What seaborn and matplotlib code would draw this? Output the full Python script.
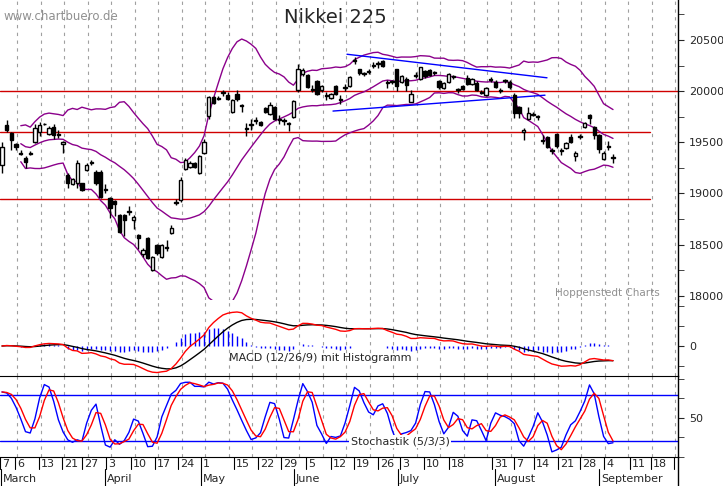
import numpy as np
import pandas as pd
import matplotlib
matplotlib.use("Agg")
import matplotlib.pyplot as plt
import seaborn as sns

# ---------------- data ----------------
opens = [19280,19670,19590,19480,19400,19350,19390,19500,19600,19680,19580,19650,19580,19480,
         19180,19090,19100,19100,19230,19300,19210,19210,19040,18960,18930,18790,18790,18830,
         18740,18590,18410,18560,18250,18500,18380,18480,18610,18920,18940,19240,19260,19300,
         19200,19400,19760,19940,19930,19980,19960,19800,19970,19860,19640,19680,19720,19700,
         19830,19780,19840,19730,19720,19680,19750,20010,20170,20160,20020,20100,20010,19960,
         19930,20050,19920,20030,20050,20300,20215,20175,20190,20255,20260,20295,20080,20090,
         20215,20090,20120,19895,20160,20120,20200,20210,20180,20100,20030,20090,20140,20010,
         20050,20130,20070,20080,19990,19960,20120,20090,20010,20110,20090,19960,19840,19600,
         19730,19780,19760,19510,19550,19420,19580,19420,19440,19550,19370,19560,19650,19770,
         19650,19570,19335,19460,19360]
closes = [19450,19620,19520,19450,19390,19310,19400,19640,19670,19675,19640,19570,19570,19500,
          19100,19140,19300,19030,19280,19310,19100,18965,19030,18860,18900,18620,18740,18820,
          18770,18560,18450,18370,18380,18420,18500,18470,18660,18910,19130,19330,19300,19260,
          19370,19500,19940,19880,19920,19990,19920,19910,19920,19850,19630,19670,19710,19670,
          19800,19860,19730,19720,19710,19690,19900,20215,20210,20040,20010,19970,20050,19950,
          19970,19970,19910,20030,20140,20290,20175,20170,20200,20250,20270,20245,20080,20090,
          20050,20150,20060,19970,20150,20235,20150,20160,20175,20040,20080,20170,20140,20010,
          20020,20070,20120,20010,19985,20030,20110,20040,20005,20100,20040,19785,19790,19620,
          19790,19770,19750,19520,19455,19410,19460,19410,19490,19500,19400,19550,19690,19740,
          19570,19435,19400,19450,19345]
highs = [19500,19720,19600,19490,19420,19370,19410,19680,19700,19690,19660,19680,19620,19510,
         19200,19150,19330,19100,19300,19330,19230,19230,19090,18970,18940,18800,18800,18880,
         18790,18600,18470,18570,18390,18510,18510,18550,18690,18950,19160,19350,19320,19310,
         19380,19530,19950,19950,19950,20010,19990,19920,20010,19870,19690,19730,19750,19710,
         19840,19890,19850,19770,19740,19700,19910,20260,20230,20170,20060,20110,20060,19990,
         19980,20060,19960,20070,20150,20330,20220,20190,20220,20280,20290,20300,20110,20110,
         20220,20160,20140,20010,20190,20240,20210,20220,20200,20110,20090,20180,20160,20030,
         20060,20160,20130,20100,20010,20040,20140,20110,20030,20120,20110,19980,19850,19640,
         19840,19800,19770,19570,19560,19440,19590,19440,19500,19580,19410,19580,19700,19780,
         19660,19580,19410,19510,19390]
lows = [19200,19600,19420,19420,19380,19250,19380,19490,19560,19670,19570,19530,19540,19400,
        19050,19080,19050,19020,19220,19280,19080,18960,19000,18760,18780,18610,18580,18790,
        18650,18460,18380,18360,18240,18400,18370,18440,18600,18890,18920,19230,19250,19250,
        19190,19390,19730,19870,19910,19950,19910,19790,19900,19800,19560,19620,19680,19660,
        19790,19770,19720,19680,19670,19610,19740,19990,20150,20030,19990,19960,19990,19910,
        19920,19960,19870,20000,20040,20260,20160,20150,20170,20230,20230,20240,20030,20070,
        20000,20080,20000,19890,20130,20110,20130,20150,20160,20020,20020,20080,20120,19980,
        20010,20060,20060,20000,19970,19950,20090,20030,19980,20080,20020,19740,19740,19520,
        19720,19760,19720,19480,19440,19390,19440,19380,19430,19490,19320,19530,19640,19680,
        19530,19400,19330,19420,19300]

day_labels = ["7","6","13","21","27","3","10","17","24","1","15","22","29","5","12","19",
              "26","3","10","18","31","7","14","21","28","4","11","18"]
day_label_px = [2,17,41,64,84,108,133,157,180,203,236,260,283,308,333,356,380,402,426,451,
                494,516,536,560,582,606,632,653]
month_labels = ["March","April","May","June","July","August","September"]
month_label_px = [3,107,203,296,400,497,601]

hlines_price = [20000, 19600, 18950]
trend1 = ([347, 547], [20360, 20130])   # pixel x, price
trend2 = ([333, 545], [19805, 19960])

# ---------------- indicators ----------------
n = len(closes)
df = pd.DataFrame({"i": np.arange(n), "o": opens, "c": closes, "h": highs, "l": lows})
c = df["c"]
mid = c.rolling(20, min_periods=5).mean()
sd = c.rolling(20, min_periods=5).std()
df["bb_mid"], df["bb_up"], df["bb_lo"] = mid, mid + 2 * sd, mid - 2 * sd
macd = c.ewm(span=12).mean() - c.ewm(span=26).mean()
sig = macd.ewm(span=9).mean()
df["macd"], df["sig"], df["hist"] = macd, sig, macd - sig
ll = df["l"].rolling(5, min_periods=1).min()
hh = df["h"].rolling(5, min_periods=1).max()
fk = 100 * (c - ll) / (hh - ll)
df["k"] = fk.rolling(3, min_periods=1).mean()
df["d"] = df["k"].rolling(3, min_periods=1).mean()

# ---------------- layout ----------------
W, H = 723, 486
fig = plt.figure(figsize=(W / 100, H / 100), dpi=100)
sns.set_style("white")
PX = 4.7
def ix(px):
    return (px - 2) / PX
xlim = (ix(0), ix(678))

def add_ax(top, bot):
    return fig.add_axes([0, 1 - bot / H, 678 / W, (bot - top) / H])

ax_p = add_ax(0, 300)
ax_m = add_ax(300, 376)
ax_s = add_ax(376, 457)
ax_d = add_ax(457, 486)

grid_x = [3.2 + 5 * k for k in range(29)]
for ax in (ax_p, ax_m, ax_s, ax_d):
    ax.set_xlim(*xlim)
    ax.set_facecolor("white")
    for s in ("top", "left", "bottom"):
        ax.spines[s].set_visible(False)
    ax.spines["right"].set_color("black")
    ax.spines["right"].set_linewidth(1)
    ax.set_xticks([])
    if ax is not ax_d:
        for g in grid_x:
            ax.axvline(g, color="#a0a0a0", lw=0.8, ls=(0, (3, 4)), zorder=0)

# ---- price panel ----
ax_p.set_ylim(20890 - 9.77 * 300, 20890)
up = df["c"] >= df["o"]
ax_p.vlines(df["i"], df["l"], df["h"], color="black", lw=1, zorder=3)
body = (df["c"] - df["o"]).abs().clip(lower=8)
bottom = df[["c", "o"]].min(axis=1)
ax_p.bar(df["i"][up], body[up], bottom=bottom[up], width=0.72, color="white",
         edgecolor="black", lw=1, zorder=4)
ax_p.bar(df["i"][~up], body[~up], bottom=bottom[~up], width=0.72, color="black",
         edgecolor="black", lw=1, zorder=4)
for col in ("bb_up", "bb_mid", "bb_lo"):
    sns.lineplot(x=df["i"], y=df[col], ax=ax_p, color="#8b008b", lw=1, zorder=2)
ax_p.axhline(hlines_price[0], color="#d00000", lw=1, zorder=1)
for hp in hlines_price[1:]:
    ax_p.plot([ix(0), ix(650)], [hp, hp], color="#d00000", lw=1, zorder=1)
for tx, ty in (trend1, trend2):
    ax_p.plot([ix(v) for v in tx], ty, color="#0000ff", lw=1, zorder=2)
ax_p.yaxis.tick_right()
ax_p.set_yticks([18000, 18500, 19000, 19500, 20000, 20500])
ax_p.set_yticks(np.arange(18000, 20800, 250), minor=True)
ax_p.tick_params(axis="y", which="both", direction="out", length=4, labelsize=8, pad=4)
ax_p.set_xlabel(""); ax_p.set_ylabel("")
ax_p.text(ix(335), 20890 - 9.77 * 18, "Nikkei 225", fontsize=14, ha="center", va="center")
ax_p.text(ix(3), 20890 - 9.77 * 17, "www.chartbuero.de", fontsize=8.5, color="#909090",
          ha="left", va="center")
ax_p.text(ix(555), 20890 - 9.77 * 293, "Hoppenstedt Charts", fontsize=7.5, color="#909090",
          ha="left", va="center")

# ---- MACD panel ----
s = max(df["macd"].max(), df["sig"].max()) / 34
ax_m.set_ylim(-30 * s, 46 * s)
ax_m.vlines(df["i"], 0, df["hist"], color="#0000ff", lw=1, zorder=2)
sns.lineplot(x=df["i"], y=df["sig"], ax=ax_m, color="black", lw=1, zorder=3)
sns.lineplot(x=df["i"], y=df["macd"], ax=ax_m, color="#ff0000", lw=1, zorder=4)
ax_m.yaxis.tick_right()
ax_m.set_yticks([0], ["0"])
ax_m.set_yticks([-20 * s, 20 * s, 40 * s], minor=True)
ax_m.tick_params(axis="y", which="both", direction="out", length=4, labelsize=8, pad=4)
ax_m.set_xlabel(""); ax_m.set_ylabel("")
ax_m.text(ix(320), -12 * s, "MACD (12/26/9) mit Histogramm", fontsize=8, ha="center",
          va="center", zorder=5)

# ---- Stochastic panel ----
ax_s.set_ylim(0, 103.8)
ax_s.axhline(80, color="#0000ff", lw=1, zorder=1)
ax_s.axhline(20, color="#0000ff", lw=1, zorder=1)
sns.lineplot(x=df["i"], y=df["k"], ax=ax_s, color="#0000ff", lw=1, zorder=3)
sns.lineplot(x=df["i"], y=df["d"], ax=ax_s, color="#ff0000", lw=1, zorder=3)
ax_s.spines["top"].set_visible(True)
ax_s.spines["top"].set_color("black")
ax_s.yaxis.tick_right()
ax_s.set_yticks([50], ["50"])
ax_s.set_yticks([0, 25, 75, 100], minor=True)
ax_s.tick_params(axis="y", which="both", direction="out", length=4, labelsize=8, pad=4)
ax_s.set_xlabel(""); ax_s.set_ylabel("")
ax_s.text(ix(400), 20, "Stochastik (5/3/3)", fontsize=8, ha="center", va="center",
          zorder=5, bbox=dict(facecolor="white", edgecolor="none", pad=1))

# ---- date panel ----
ax_d.set_ylim(0, 29)
ax_d.spines["top"].set_visible(True)
ax_d.spines["top"].set_color("black")
ax_d.set_yticks([])
for lab, px in zip(day_labels, day_label_px):
    ax_d.plot([ix(px - 2)] * 2, [29, 17], color="black", lw=0.8)
    ax_d.text(ix(px), 22, lab, fontsize=8, ha="left", va="center")
ax_d.plot([ix(674)] * 2, [29, 17], color="black", lw=0.8)
for lab, px in zip(month_labels, month_label_px):
    ax_d.plot([ix(px - 2)] * 2, [17, 0], color="black", lw=0.8)
    ax_d.text(ix(px), 7, lab, fontsize=8, ha="left", va="center")

fig.savefig("out.png", dpi=100, facecolor="white")
